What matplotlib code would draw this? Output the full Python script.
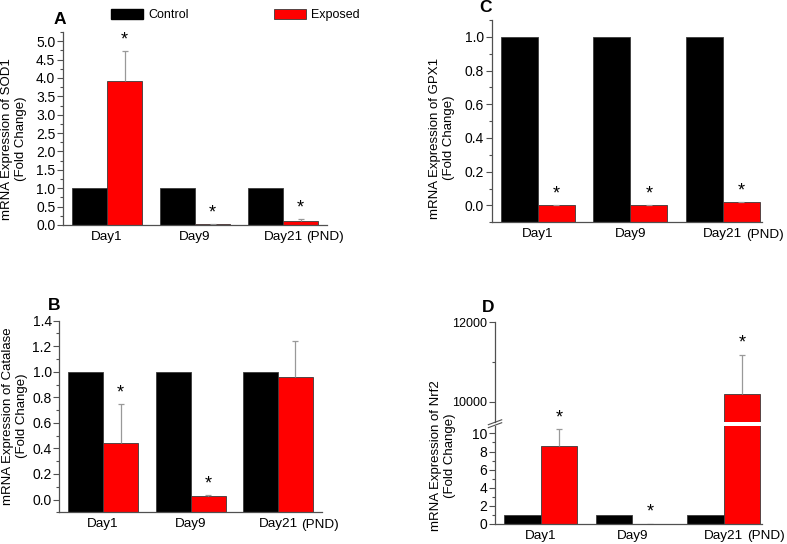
import numpy as np
import matplotlib
matplotlib.use("Agg")
import matplotlib.pyplot as plt
from matplotlib.patches import Patch
from matplotlib.ticker import MultipleLocator

plt.rcParams["font.family"] = ["Liberation Sans", "DejaVu Sans"]

# Data
days = ["Day1", "Day9", "Day21"]
control = [1.0, 1.0, 1.0]

sod1_exp = [3.93, 0.03, 0.12]
sod1_err = [0.81, 0.0, 0.03]

cat_exp = [0.44, 0.031, 0.963]
cat_err = [0.31, 0.005, 0.28]

gpx1_exp = [0.0, 0.003, 0.02]
gpx1_err = [0.0, 0.0, 0.002]

nrf2_exp = [8.6, 0.05, 10200]
nrf2_err = [1.85, 0.0, 990]

# Style
RED = "#ff0000"
EDGE = "#3a3a3a"
AXC = "#505050"
ERRC = "#999999"
W = 0.4
TICK_FS = 10
XLAB_FS = 9.7
STAR_FS = 13

fig = plt.figure(figsize=(7.87, 5.44), dpi=100)


def style_axis(ax, xmax, major, minor, fs=TICK_FS):
    ax.spines["top"].set_visible(False)
    ax.spines["right"].set_visible(False)
    for s in ["left", "bottom"]:
        ax.spines[s].set_color(AXC)
        ax.spines[s].set_linewidth(0.9)
    ax.set_xlim(-0.5, xmax)
    ax.yaxis.set_major_locator(MultipleLocator(major))
    ax.yaxis.set_minor_locator(MultipleLocator(minor))
    ax.tick_params(axis="y", which="major", direction="out", length=4,
                   width=0.8, color=AXC, labelsize=fs, pad=1.5)
    ax.tick_params(axis="y", which="minor", direction="out", length=2,
                   width=0.8, color=AXC)
    ax.tick_params(axis="x", length=0, labelsize=XLAB_FS, pad=4)
    ax.set_xticks(np.arange(len(days)))
    ax.set_xticklabels(days)


def star(ax, xi, top):
    ax.annotate("*", (xi, top), xytext=(0, 8), textcoords="offset points",
                ha="center", va="center", fontsize=STAR_FS,
                annotation_clip=False)


def draw_bars(ax, exp, err, base=0.0, starred=(0, 1, 2)):
    x = np.arange(len(days))
    ax.bar(x - W / 2, np.array(control) - base, W, bottom=base,
           color="black", edgecolor=EDGE, linewidth=0.6)
    ax.bar(x + W / 2, np.array(exp) - base, W, bottom=base,
           color=RED, edgecolor=EDGE, linewidth=0.6)
    eb = ax.errorbar(x + W / 2, exp, yerr=[np.zeros(len(err)), err],
                     fmt="none", ecolor=ERRC, elinewidth=0.9, capsize=2.5,
                     capthick=0.9)
    eb[1][0].set_visible(False)
    for i in starred:
        star(ax, x[i] + W / 2, exp[i] + err[i])


def pnd(ax, dy=0.0):
    # "(PND)" follows the Day21 tick label
    ax.annotate("(PND)", (2, 0), xycoords=("data", "axes fraction"),
                xytext=(16.8, -4 - XLAB_FS / 2 + dy), textcoords="offset points",
                ha="left", va="center", fontsize=XLAB_FS, annotation_clip=False)


# Panel A - SOD1
axA = fig.add_axes([0.0800, 0.5864, 0.3355, 0.3548])
draw_bars(axA, sod1_exp, sod1_err)
style_axis(axA, 2.5, 0.5, 0.25)
axA.set_ylim(0, 5.25)
pnd(axA)

# Panel B - Catalase
axB = fig.add_axes([0.0754, 0.0583, 0.3334, 0.3522])
draw_bars(axB, cat_exp, cat_err, base=-0.1, starred=(0, 1))
style_axis(axB, 2.5, 0.2, 0.1)
axB.set_ylim(-0.1, 1.4)
pnd(axB)

# Panel C - GPX1
axC = fig.add_axes([0.6248, 0.5914, 0.3431, 0.3719])
draw_bars(axC, gpx1_exp, gpx1_err, base=-0.1)
style_axis(axC, 2.42, 0.2, 0.1)
axC.set_ylim(-0.1, 1.1)
pnd(axC)

# Panel D - Nrf2 (broken axis)
axDh = fig.add_axes([0.6290, 0.2248, 0.3393, 0.1827])
axDl = fig.add_axes([0.6290, 0.0368, 0.3393, 0.1807])
x = np.arange(len(days))
for ax in [axDh, axDl]:
    ax.bar(x - W / 2, control, W, color="black", edgecolor=EDGE, linewidth=0.6)
    ax.bar(x + W / 2, nrf2_exp, W, color=RED, edgecolor=EDGE, linewidth=0.6)
eb = axDh.errorbar(x[2:] + W / 2, nrf2_exp[2:], yerr=[[0], nrf2_err[2:]],
                   fmt="none", ecolor=ERRC, elinewidth=0.9, capsize=2.5,
                   capthick=0.9)
eb[1][0].set_visible(False)
eb = axDl.errorbar(x[:2] + W / 2, nrf2_exp[:2], yerr=[[0, 0], nrf2_err[:2]],
                   fmt="none", ecolor=ERRC, elinewidth=0.9, capsize=2.5,
                   capthick=0.9)
eb[1][0].set_visible(False)
for i in [0, 1]:
    star(axDl, x[i] + W / 2, nrf2_exp[i] + nrf2_err[i])
star(axDh, x[2] + W / 2, nrf2_exp[2] + nrf2_err[2])

style_axis(axDl, 2.42, 2, 1, fs=10)
axDl.set_ylim(0, 10.85)
axDl.spines["top"].set_visible(False)
pnd(axDl, dy=0.5)

style_axis(axDh, 2.42, 2000, 1000, fs=9)
axDh.set_ylim(9500, 12000)
axDh.spines["bottom"].set_visible(False)
axDh.set_xticks([])

# break marks
for dy in [0.0, 0.03]:
    axDl.plot([-0.025, 0.025], [1.0 + dy - 0.02, 1.0 + dy + 0.03],
              transform=axDl.transAxes, color=AXC, lw=0.8, clip_on=False)

# y labels
ylab = dict(rotation=90, ha="center", va="center", fontsize=9.5,
            multialignment="center", linespacing=1.15)
fig.text(14 / 787, 1 - 139 / 544, "mRNA Expression of SOD1\n(Fold Change)", **ylab)
fig.text(15 / 787, 1 - 416 / 544, "mRNA Expression of Catalase\n(Fold Change)", **ylab)
fig.text(442 / 787, 1 - 138 / 544, "mRNA Expression of GPX1\n(Fold Change)", **ylab)
fig.text(443 / 787, 1 - 456 / 544, "mRNA Expression of Nrf2\n(Fold Change)", **ylab)

# panel letters
for lab, px, py in [("A", 59.5, 20), ("B", 54, 306), ("C", 486, 8), ("D", 488, 307)]:
    fig.text(px / 787, 1 - py / 544, lab, fontsize=12.5, fontweight="bold",
             ha="center", va="center")

# legend
handles = [Patch(facecolor="black", edgecolor="black"),
           Patch(facecolor=RED, edgecolor=EDGE, linewidth=0.6)]
fig.legend(handles, ["Control", "Exposed"], loc="upper left",
           bbox_to_anchor=(111 / 787, 1 - 9 / 544), ncol=2, frameon=False,
           fontsize=9, handlelength=2.56, handleheight=0.84,
           handletextpad=0.4, columnspacing=6.8, borderpad=0,
           borderaxespad=0)

fig.savefig("out.png", dpi=100)
